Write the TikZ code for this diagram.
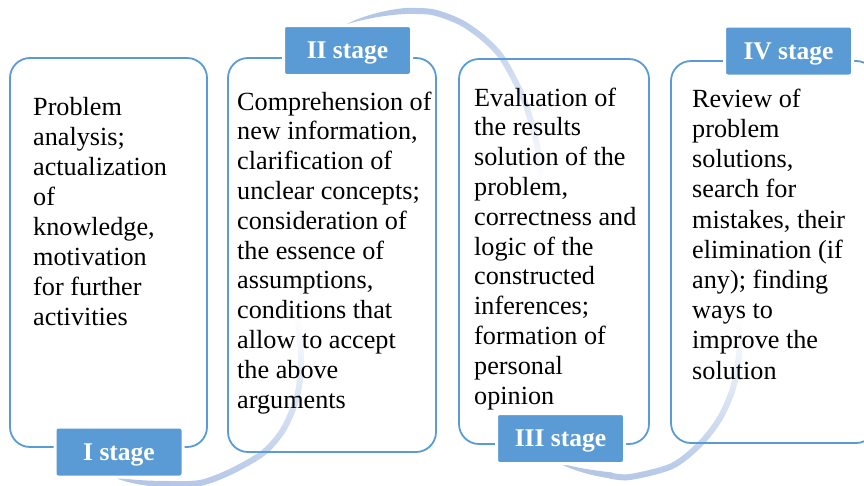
\documentclass[tikz,border=0pt]{standalone}
\usepackage{fontspec}
\setmainfont{Liberation Serif}
\usetikzlibrary{fadings}

\definecolor{stageblue}{RGB}{91,155,213}
\definecolor{arcblue}{RGB}{180,199,231}
\tikzfading[name=fade up, top color=transparent!100, middle color=transparent!55, bottom color=transparent!0]
\tikzfading[name=fade down, top color=transparent!0, middle color=transparent!45, bottom color=transparent!100]

\begin{document}
\begin{tikzpicture}[x=1pt,y=-1pt,
  box/.style={draw=stageblue,line width=1.8pt,rounded corners=20pt},
  stage/.style={fill=stageblue,draw=white,line width=3pt,rounded corners=3pt,
    minimum width=128pt,minimum height=50pt,text=white,text depth=0pt,
    font=\fontsize{25.5}{30}\selectfont\bfseries},
  body/.style={anchor=base west,align=left,font=\fontsize{26.2}{#1}\selectfont},
  body/.default=30,
  arcline/.style={arcblue,line width=6pt}]
\tikzstyle{every node}+=[inner sep=0pt]
\useasboundingbox (0,0) rectangle (864,485);
\clip (0,0) rectangle (864,485);
% arcs behind the boxes
\fill [arcblue] (347,24) .. controls (362,16) and (385,10) .. (405,8) -- (405,14) .. controls (385,15) and (365,19) .. (347,24) -- cycle;
\draw [arcline,path fading=fade down] plot[smooth] coordinates {(403,11) (432,12) (460,22) (482,37) (500,55) (513,77) (524,100) (532,125) (538,150) (541,178)};
\fill [arcblue] (113,477) .. controls (130,484) and (150,487) .. (170,487) -- (170,481) .. controls (150,481) and (130,480) .. (113,477) -- cycle;
\draw [arcline,path fading=fade up] plot[smooth] coordinates {(168,484) (200,483) (230,472) (263,453) (283,430) (296,400) (301,370) (300,340) (297,318)};
\fill [arcblue] (556,462) .. controls (570,469) and (590,476) .. (612,478.5) -- (612,472.5) .. controls (590,470) and (572,467) .. (556,462) -- cycle;
\draw [arcline,path fading=fade up] plot[smooth] coordinates {(610,475.5) (630,477) (672,466) (700,444) (720,418) (733,388) (739,355) (739,322)};
% boxes
\draw [box] (10,58) rectangle (207,447);
\draw [box] (228,58) rectangle (436,452);
\draw [box] (459,59) rectangle (649,444);
\draw [box] (671,61) rectangle (876,443);
% texts (placed at the baseline of the last line)
\node [body] (t1) at (33,325) {Problem\\analysis;\\actualization\\of\\knowledge,\\motivation\\for further\\activities};
\node [body=29.8] (t2) at (237,408) {Comprehension of\\new information,\\clarification of\\unclear concepts;\\consideration of\\the essence of\\assumptions,\\conditions that\\allow to accept\\the above\\arguments};
\node [body=29.8] (t3) at (474,404) {Evaluation of\\the results\\solution of the\\problem,\\correctness and\\logic of the\\constructed\\inferences;\\formation of\\personal\\opinion};
\node [body=30.2] (t4) at (692,379) {Review of\\problem\\solutions,\\search for\\mistakes, their\\elimination (if\\any); finding\\ways to\\improve the\\solution};
% stage labels
\node [stage] (s1) at (119,452) {I stage};
\node [stage] (s2) at (347.5,50.5) {II stage};
\node [stage] (s3) at (560.5,438.5) {III stage};
\node [stage] (s4) at (788.5,51) {IV stage};
\end{tikzpicture}
\end{document}
